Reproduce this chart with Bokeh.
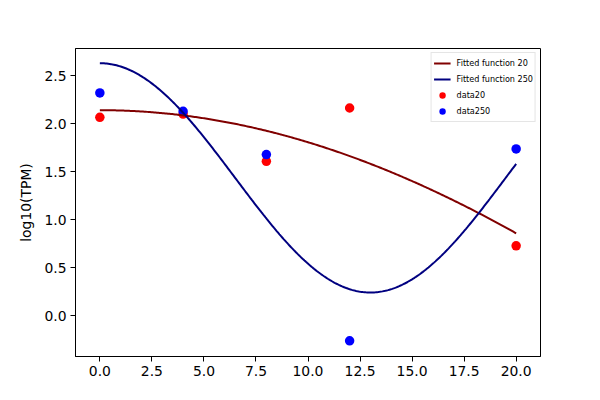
import numpy as np
from bokeh.plotting import figure
from bokeh.models import (FixedTicker, PrintfTickFormatter, Legend, LegendItem,
                          Range1d)
from bokeh.embed import file_html
from bokeh.resources import INLINE

# ---- data ----
days = [0, 4, 8, 12, 20]
data20 = [2.066, 2.10, 1.607, 2.163, 0.726]
data250 = [2.32, 2.128, 1.677, -0.264, 1.736]

# fitted model a*cos(w*x)+c, parameters
fit20_a, fit20_w, fit20_c = 4.23, 0.04, -2.09
fit250_a, fit250_w, fit250_c = 1.195, 0.2417, 1.435

x_ticks = [0, 2.5, 5, 7.5, 10, 12.5, 15, 17.5, 20]
y_ticks = [0, 0.5, 1.0, 1.5, 2.0, 2.5]

xs = np.linspace(0, 20, 300)
fit20 = fit20_a * np.cos(fit20_w * xs) + fit20_c
fit250 = fit250_a * np.cos(fit250_w * xs) + fit250_c

FONT = "DejaVu Sans"

p = figure(frame_width=465, frame_height=308,
           min_border_left=75, min_border_right=44,
           min_border_top=48, min_border_bottom=28,
           output_backend="svg", toolbar_location=None,
           x_range=Range1d(-1.17, 21.17), y_range=Range1d(-0.427, 2.783))

p.grid.visible = False
p.outline_line_color = "black"
p.outline_line_width = 1
p.background_fill_color = "white"
p.border_fill_color = "white"

for ax in (p.xaxis[0], p.yaxis[0]):
    ax.axis_line_color = "black"
    ax.major_tick_line_color = "black"
    ax.minor_tick_line_color = None
    ax.major_tick_in = 0
    ax.major_tick_out = 5
    ax.major_label_text_color = "black"
    ax.major_label_text_font = FONT
    ax.major_label_text_font_size = "13.9px"
    ax.formatter = PrintfTickFormatter(format="%.1f")

p.xaxis[0].ticker = FixedTicker(ticks=x_ticks)
p.yaxis[0].ticker = FixedTicker(ticks=y_ticks)
p.xaxis[0].major_label_standoff = 4
p.yaxis[0].major_label_standoff = 4

p.yaxis[0].axis_label = "log10(TPM)"
p.yaxis[0].axis_label_text_font = FONT
p.yaxis[0].axis_label_text_font_size = "13.9px"
p.yaxis[0].axis_label_text_font_style = "normal"
p.yaxis[0].axis_label_text_color = "black"
p.yaxis[0].axis_label_standoff = 7

s20 = p.scatter(days, data20, size=9.5, color="red", line_color=None)
s250 = p.scatter(days, data250, size=9.5, color="blue", line_color=None)
l20 = p.line(xs, fit20, line_color="#800000", line_width=2)
l250 = p.line(xs, fit250, line_color="#000080", line_width=2)

legend = Legend(items=[
    LegendItem(label="Fitted function 20", renderers=[l20]),
    LegendItem(label="Fitted function 250", renderers=[l250]),
    LegendItem(label="data20", renderers=[s20]),
    LegendItem(label="data250", renderers=[s250]),
], location="top_right")
legend.margin = 4
legend.padding = 2
legend.spacing = -3
legend.glyph_width = 17
legend.glyph_height = 16
legend.label_height = 11
legend.label_standoff = 6
legend.label_text_font = FONT
legend.label_text_font_size = "8.1px"
legend.label_text_color = "black"
legend.border_line_color = "#cccccc"
legend.border_line_width = 1
legend.background_fill_alpha = 0.8
p.add_layout(legend, "center")

open("out.html", "w").write(file_html(p, INLINE))
